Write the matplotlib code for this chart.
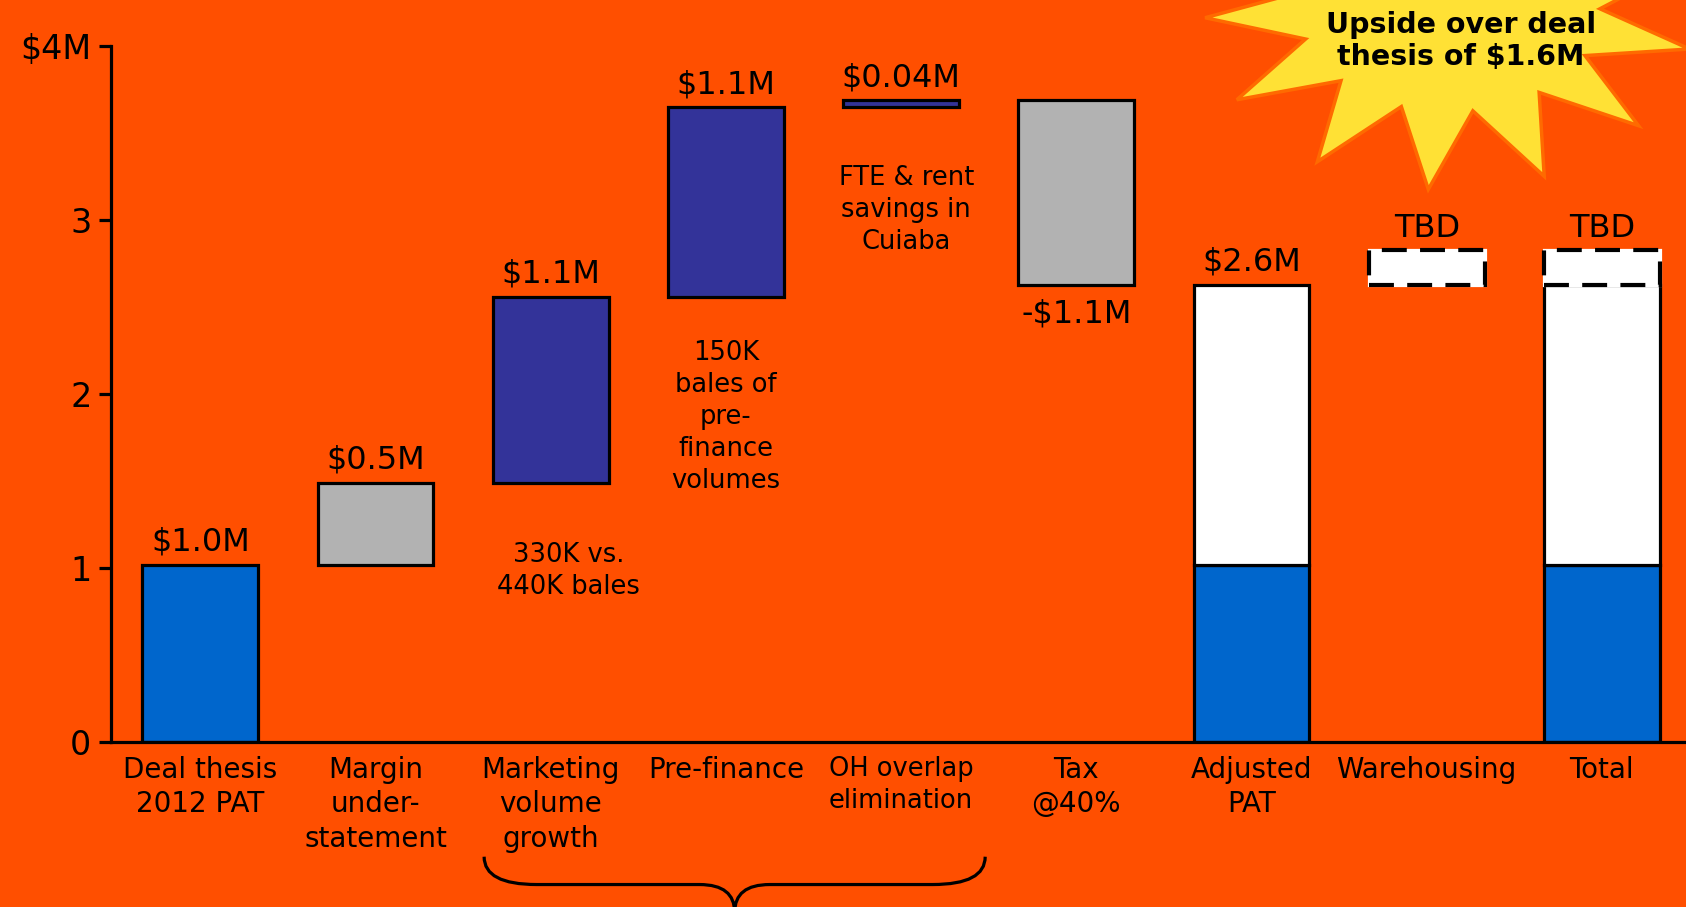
import numpy as np
import matplotlib
matplotlib.use("Agg")
import matplotlib.pyplot as plt
from matplotlib.patches import Polygon, PathPatch
from matplotlib.path import Path
import matplotlib.transforms as mtransforms

# --- data ($M) ---
categories = ["Deal thesis\n2012 PAT", "Margin\nunder-\nstatement",
              "Marketing\nvolume\ngrowth", "Pre-finance", "OH overlap\nelimination",
              "Tax\n@40%", "Adjusted\nPAT", "Warehousing", "Total"]
base_pat = 1.02
steps = [0.47, 1.07, 1.09, 0.04, -1.06]      # margin, marketing, pre-finance, OH, tax
tbd_height = 0.20                             # warehousing, not yet sized
notes = ["330K vs.\n440K bales",
         "150K\nbales of\npre-\nfinance\nvolumes",
         "FTE & rent\nsavings in\nCuiaba"]
yticks = [0, 1, 2, 3, 4]
ytick_labels = ["0", "1", "2", "3", "$4M"]

BG = "#FF4F00"
BLUE = "#0066CC"
NAVY = "#333399"
GRAY = "#B2B2B2"
step_colors = [GRAY, NAVY, NAVY, NAVY, GRAY]


def money(v):
    s = f"{abs(v):.2f}" if abs(v) < 0.1 else f"{abs(v):.1f}"
    return ("-" if v < 0 else "") + "$" + s + "M"


fig = plt.figure(figsize=(16.86, 9.07), dpi=100, facecolor=BG)
ax = fig.add_axes([0.0658, 0.182, 0.9342, 0.767])
ax.set_facecolor(BG)

W = 0.66
LW = 2.3
VFS = 23
x = np.arange(len(categories))

# starting bar
ax.bar(x[0], base_pat, W, color=BLUE, edgecolor="black", linewidth=LW)
ax.annotate(money(base_pat), (x[0], base_pat), xytext=(0, 5), textcoords="offset points",
            ha="center", va="bottom", fontsize=VFS)

# floating steps
level = base_pat
for i, (d, c) in enumerate(zip(steps, step_colors)):
    xi = x[i + 1]
    ax.bar(xi, d, W, bottom=level, color=c, edgecolor="black", linewidth=LW)
    top = max(level, level + d)
    bot = min(level, level + d)
    if d >= 0:
        ax.annotate(money(d), (xi, top), xytext=(0, 5), textcoords="offset points",
                    ha="center", va="bottom", fontsize=VFS)
    else:
        ax.annotate(money(d), (xi, bot), xytext=(0, -10), textcoords="offset points",
                    ha="center", va="top", fontsize=VFS)
    level += d
adjusted = level

# adjusted PAT and total
for xi in (x[6], x[8]):
    ax.bar(xi, base_pat, W, color=BLUE, edgecolor="black", linewidth=LW)
    ax.bar(xi, adjusted - base_pat, W, bottom=base_pat, color="white",
           edgecolor="black", linewidth=LW)
ax.annotate(money(adjusted), (x[6], adjusted), xytext=(0, 5), textcoords="offset points",
            ha="center", va="bottom", fontsize=VFS)

# dashed TBD boxes
for xi in (x[7], x[8]):
    ax.bar(xi, tbd_height, W, bottom=adjusted, color="white", edgecolor="white",
           linewidth=LW, zorder=3)
    ax.bar(xi, tbd_height, W, bottom=adjusted, fill=False, edgecolor="black",
           linewidth=LW * 1.3, linestyle=(0, (6, 3.2)), zorder=4)
    ax.annotate("TBD", (xi, adjusted + tbd_height), xytext=(0, 4),
                textcoords="offset points", ha="center", va="bottom", fontsize=VFS)

# notes under the blue steps
ax.text(2.1, 0.98, notes[0], ha="center", va="center", fontsize=18.5, linespacing=1.3)
ax.text(3.0, 1.87, notes[1], ha="center", va="center", fontsize=18.5, linespacing=1.3)
ax.text(4.03, 3.06, notes[2], ha="center", va="center", fontsize=18.5, linespacing=1.3)

# axes styling
ax.set_xlim(-0.51, 8.48)
ax.set_ylim(0, 4)
ax.set_yticks(yticks)
ax.set_yticklabels(ytick_labels, fontsize=24)
ax.set_xticks(x)
ax.set_xticklabels(categories, fontsize=20, linespacing=1.3)
for lbl in ax.get_xticklabels():
    if lbl.get_text().startswith("OH"):
        lbl.set_fontsize(18.5)
ax.tick_params(axis="x", length=0, pad=10)
ax.tick_params(axis="y", length=9, width=LW, pad=5)
for s in ("top", "right"):
    ax.spines[s].set_visible(False)
for s in ("left", "bottom"):
    ax.spines[s].set_linewidth(LW)

# brace grouping the operating improvements
trans = mtransforms.blended_transform_factory(ax.transData, ax.transAxes)
x0, x1, xc = 1.62, 4.48, 3.05
yt, ym, yb = -0.165, -0.205, -0.245
r, rc = 0.3, 0.2
verts = [(x0, yt), (x0, ym), (x0 + r, ym), (xc - rc, ym), (xc, ym), (xc, yb),
         (xc, yb), (xc, ym), (xc + rc, ym), (x1 - r, ym), (x1, ym), (x1, yt)]
codes = [Path.MOVETO, Path.CURVE3, Path.CURVE3, Path.LINETO, Path.CURVE3, Path.CURVE3,
         Path.MOVETO, Path.CURVE3, Path.CURVE3, Path.LINETO, Path.CURVE3, Path.CURVE3]
ax.add_patch(PathPatch(Path(verts, codes), fill=False, edgecolor="black", lw=LW,
                       transform=trans, clip_on=False))

# starburst callout (figure pixel space, y measured downwards)
n = 13
cx, cy = 1450, 12
k = np.arange(2 * n)
t = np.deg2rad(k * 180 / n + 12)
rx = np.where(k % 2 == 0, 245, 150)
ry = np.where(k % 2 == 0, 178, 100)
px = cx + rx * np.cos(t)
py = cy + ry * np.sin(t)
star = Polygon(np.column_stack([px / 1686, 1 - py / 907]), closed=True,
               facecolor="#FFE135", edgecolor="#FF6A00", lw=2.5,
               transform=fig.transFigure)
fig.add_artist(star)
fig.text(1461 / 1686, 1 - 41 / 907, f"Upside over deal\nthesis of ${adjusted - base_pat:.1f}M",
         ha="center", va="center", fontsize=20.5, fontweight="bold", linespacing=1.15)

fig.savefig("out.png", dpi=100, facecolor=BG)
